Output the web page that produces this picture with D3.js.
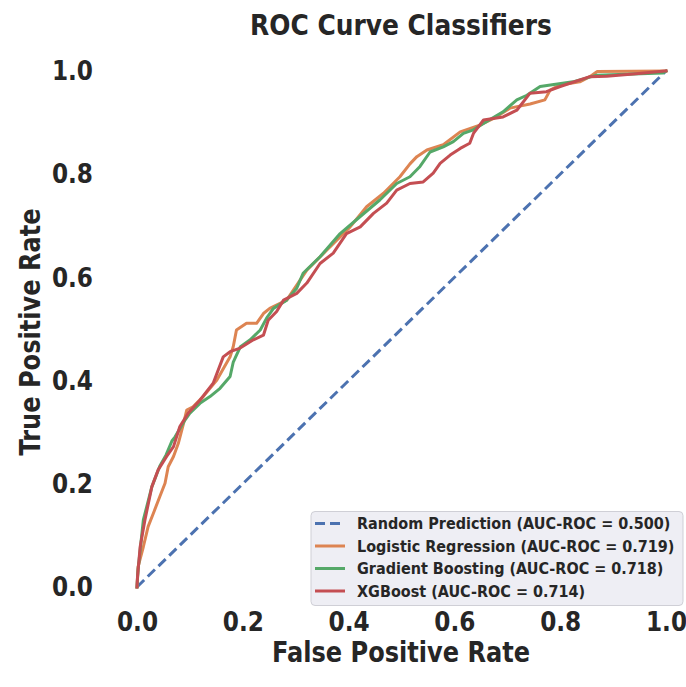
<!DOCTYPE html>
<html>
<head>
<meta charset="utf-8">
<script src="https://cdn.jsdelivr.net/npm/d3@7"></script>
<style>
  html, body { margin: 0; padding: 0; background: #ffffff; }
  svg { display: block; }
  text { font-family: "DejaVu Sans", sans-serif; font-weight: bold; fill: #262626; }
</style>
</head>
<body>
<svg id="chart" width="686" height="687"></svg>
<script>
// ---- data ----
const xTicks = [0.0, 0.2, 0.4, 0.6, 0.8, 1.0];
const yTicks = [0.0, 0.2, 0.4, 0.6, 0.8, 1.0];

const randomFpr = [0, 1];
const randomTpr = [0, 1];

const logFpr = [0, 0.002, 0.012, 0.021, 0.031, 0.043, 0.053, 0.059, 0.069, 0.078, 0.088, 0.094, 0.106, 0.125, 0.151, 0.176, 0.182, 0.188, 0.207, 0.226, 0.239, 0.251, 0.283, 0.321, 0.359, 0.403, 0.434, 0.466, 0.497, 0.516, 0.529, 0.548, 0.579, 0.611, 0.648, 0.674, 0.705, 0.743, 0.771, 0.781, 0.800, 0.837, 0.856, 0.870, 1.0];
const logTpr = [0, 0.039, 0.078, 0.117, 0.143, 0.175, 0.201, 0.233, 0.253, 0.278, 0.317, 0.343, 0.349, 0.369, 0.401, 0.446, 0.466, 0.498, 0.511, 0.511, 0.530, 0.540, 0.556, 0.614, 0.653, 0.698, 0.737, 0.763, 0.795, 0.820, 0.834, 0.847, 0.857, 0.882, 0.895, 0.908, 0.928, 0.936, 0.944, 0.963, 0.973, 0.979, 0.989, 0.999, 1.0];

const gbFpr = [0, 0.002, 0.006, 0.012, 0.028, 0.043, 0.055, 0.066, 0.072, 0.091, 0.100, 0.119, 0.138, 0.157, 0.176, 0.182, 0.195, 0.214, 0.233, 0.245, 0.258, 0.283, 0.302, 0.314, 0.346, 0.384, 0.422, 0.459, 0.491, 0.516, 0.535, 0.554, 0.579, 0.598, 0.617, 0.636, 0.661, 0.692, 0.718, 0.737, 0.762, 0.824, 0.869, 0.994, 1.0];
const gbTpr = [0, 0.033, 0.072, 0.130, 0.194, 0.234, 0.256, 0.283, 0.291, 0.324, 0.337, 0.356, 0.369, 0.385, 0.408, 0.436, 0.465, 0.479, 0.498, 0.521, 0.540, 0.556, 0.579, 0.608, 0.640, 0.685, 0.718, 0.750, 0.782, 0.795, 0.815, 0.843, 0.853, 0.863, 0.879, 0.886, 0.902, 0.921, 0.944, 0.953, 0.970, 0.979, 0.992, 0.996, 1.0];

const xgbFpr = [0, 0.001, 0.006, 0.015, 0.028, 0.040, 0.056, 0.069, 0.081, 0.097, 0.119, 0.144, 0.163, 0.176, 0.195, 0.220, 0.239, 0.248, 0.264, 0.277, 0.302, 0.321, 0.346, 0.371, 0.396, 0.422, 0.447, 0.472, 0.491, 0.516, 0.541, 0.560, 0.573, 0.592, 0.611, 0.629, 0.636, 0.655, 0.692, 0.718, 0.743, 0.774, 0.800, 0.856, 0.888, 0.938, 1.0];
const xgbTpr = [0, 0.020, 0.078, 0.130, 0.194, 0.227, 0.253, 0.272, 0.311, 0.337, 0.362, 0.395, 0.446, 0.456, 0.463, 0.479, 0.488, 0.517, 0.534, 0.556, 0.569, 0.589, 0.627, 0.647, 0.685, 0.698, 0.724, 0.744, 0.769, 0.782, 0.785, 0.802, 0.821, 0.837, 0.850, 0.860, 0.879, 0.905, 0.911, 0.924, 0.957, 0.960, 0.970, 0.989, 0.990, 0.994, 1.0];

const seriesNames = [
  "Random Prediction (AUC-ROC = 0.500)",
  "Logistic Regression (AUC-ROC = 0.719)",
  "Gradient Boosting (AUC-ROC = 0.718)",
  "XGBoost (AUC-ROC = 0.714)"
];
const seriesColors = ["#4c72b0", "#dd8452", "#55a868", "#c44e52"];

// ---- build ----
const series = [
  { name: seriesNames[0], color: seriesColors[0], dash: "10,5", pts: randomFpr.map((f, i) => [f, randomTpr[i]]) },
  { name: seriesNames[1], color: seriesColors[1], dash: null, pts: logFpr.map((f, i) => [f, logTpr[i]]) },
  { name: seriesNames[2], color: seriesColors[2], dash: null, pts: gbFpr.map((f, i) => [f, gbTpr[i]]) },
  { name: seriesNames[3], color: seriesColors[3], dash: null, pts: xgbFpr.map((f, i) => [f, xgbTpr[i]]) }
];

const svg = d3.select("#chart");
const x = d3.scaleLinear().domain([0, 1]).range([137, 666]);
const y = d3.scaleLinear().domain([0, 1]).range([587, 71]);

const SX = 0.86;      // horizontal glyph compression seen in the reference
const BIG = 28;       // font size for title/axis text

// title
svg.append("text").attr("transform", `translate(401,35) scale(0.89,1)`).attr("text-anchor", "middle")
  .style("font-size", BIG + "px").text("ROC Curve Classifiers");

// x axis
const xAxis = svg.append("g").attr("transform", "translate(0,587)")
  .call(d3.axisBottom(x).tickValues(xTicks).tickFormat(d3.format(".1f")).tickSize(0).tickPadding(25));
xAxis.select(".domain").remove();
xAxis.selectAll("text").style("font-size", "27px").style("font-family", "DejaVu Sans")
  .attr("fill", "#262626").attr("transform", `scale(${SX},1)`);

// y axis
const yAxis = svg.append("g").attr("transform", "translate(137,0)")
  .call(d3.axisLeft(y).tickValues(yTicks).tickFormat(d3.format(".1f")).tickSize(0).tickPadding(44 / SX));
yAxis.select(".domain").remove();
yAxis.selectAll("text").style("font-size", "27px").style("font-family", "DejaVu Sans")
  .attr("fill", "#262626").attr("transform", `scale(${SX},1)`);

// axis labels
svg.append("text").attr("transform", `translate(401,662) scale(${SX},1)`).attr("text-anchor", "middle")
  .style("font-size", BIG + "px").text("False Positive Rate");
svg.append("text").attr("transform", `translate(40,332) rotate(-90) scale(${SX},1)`).attr("text-anchor", "middle")
  .style("font-size", BIG + "px").text("True Positive Rate");

// lines
const line = d3.line().x(d => x(d[0])).y(d => y(d[1]));
series.forEach(s => {
  svg.append("path").datum(s.pts)
    .attr("d", line)
    .attr("fill", "none")
    .attr("stroke", s.color)
    .attr("stroke-width", 3)
    .attr("stroke-linejoin", "round")
    .attr("stroke-linecap", s.dash ? "butt" : "square")
    .attr("stroke-dasharray", s.dash);
});

// legend
const LSX = 0.9;
const lg = svg.append("g");
lg.append("rect").attr("x", 311).attr("y", 511.5).attr("width", 372).attr("height", 94)
  .attr("rx", 4).attr("fill", "#eeeef4").attr("stroke", "#cfcfd6").attr("stroke-width", 1);
series.forEach((s, i) => {
  const cy = 523.5 + i * 22.5;
  lg.append("line").attr("x1", 315).attr("x2", 345).attr("y1", cy).attr("y2", cy)
    .attr("stroke", s.color).attr("stroke-width", 3).attr("stroke-dasharray", s.dash);
  lg.append("text").attr("transform", `translate(357,${cy}) scale(${LSX},1)`).attr("dy", "0.36em")
    .style("font-size", "16px").text(s.name);
});
</script>
</body>
</html>
